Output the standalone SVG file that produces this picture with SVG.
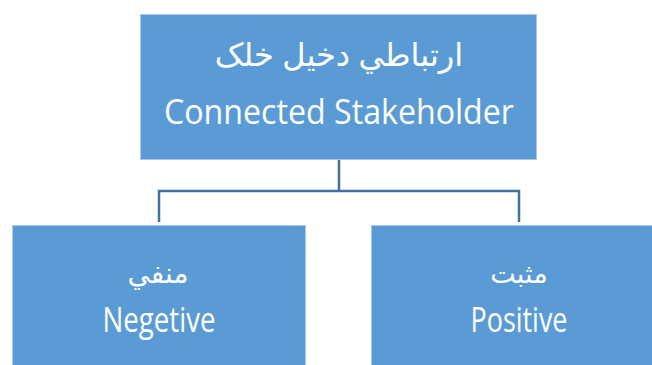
<svg xmlns="http://www.w3.org/2000/svg" width="652" height="365" viewBox="0 0 652 365">
<style>
.box{fill:#5B9BD5;stroke:#A9C8E8;stroke-width:1}
.t{fill:#ffffff;font-family:"Open Sans","Noto Sans","DejaVu Sans",sans-serif;text-anchor:middle}
.ar{font-family:"Noto Sans","DejaVu Sans",sans-serif}
.en{font-size:34px}
.conn{fill:none;stroke:#41719C;stroke-width:2.5}
</style>
<rect width="652" height="365" fill="#ffffff"/>
<g id="connectors">
<path class="conn" d="M339,160 V191 M159,222 V191 H519 V222"/>
</g>
<g id="top">
<rect class="box" x="140.5" y="14.5" width="396" height="145"/>
<text class="t ar" x="339" y="66" font-size="32" direction="rtl">ارتباطي دخيل خلک</text>
<text class="t en" x="339" y="124" textLength="350" lengthAdjust="spacingAndGlyphs">Connected Stakeholder</text>
</g>
<g id="negative">
<rect class="box" x="12.5" y="225.5" width="293" height="145"/>
<text class="t ar" x="158" y="283" font-size="28" direction="rtl">منفي</text>
<text class="t en" x="159" y="332" font-size="29" textLength="113" lengthAdjust="spacingAndGlyphs">Negetive</text>
</g>
<g id="positive">
<rect class="box" x="371.5" y="225.5" width="285" height="145"/>
<text class="t ar" x="519" y="283" font-size="27" direction="rtl">مثبت</text>
<text class="t en" x="519" y="332" font-size="29" textLength="97" lengthAdjust="spacingAndGlyphs">Positive</text>
</g>
</svg>
